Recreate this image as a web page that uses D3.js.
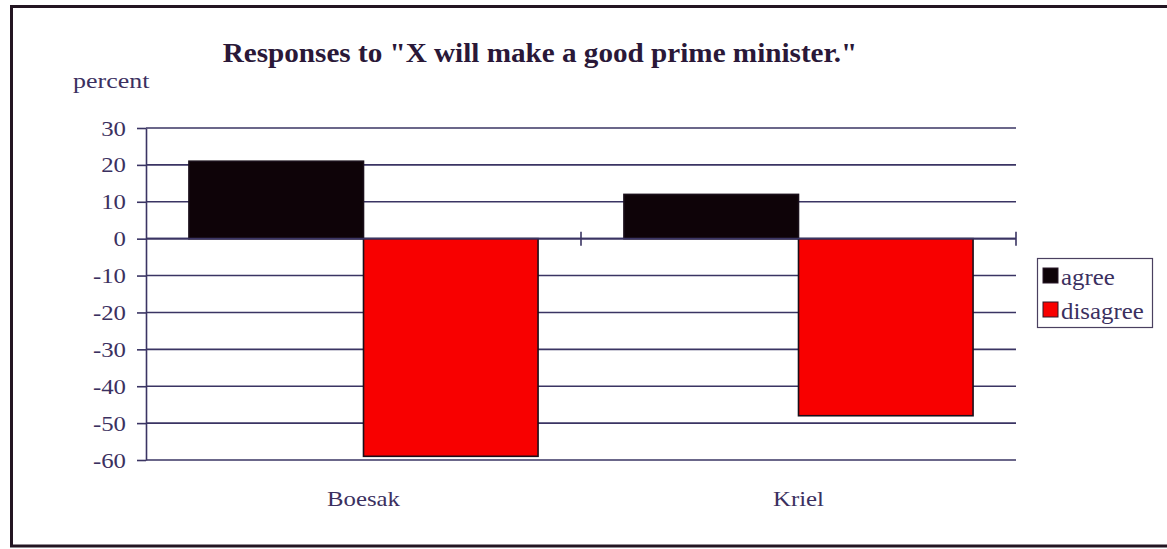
<!DOCTYPE html>
<html>
<head>
<meta charset="utf-8">
<script src="https://cdn.jsdelivr.net/npm/d3@7"></script>
<style>
  html, body { margin: 0; padding: 0; background: #fff; }
  svg { display: block; }
  svg text { font-family: "Liberation Serif", "Times New Roman", serif; }
</style>
</head>
<body>
<svg id="chart" width="1167" height="549"></svg>
<script>
// Survey responses, percent
const categories = ["Boesak", "Kriel"];
const seriesNames = ["agree", "disagree"];
const agreeValues = [21, 12];
const disagreeValues = [-59, -48];
const yTicks = [30, 20, 10, 0, -10, -20, -30, -40, -50, -60];
const titleText = "Responses to \"X will make a good prime minister.\"";
const yLabel = "percent";

const serif = "'Liberation Serif', 'Times New Roman', serif";
const colors = { agree: "#0e0308", disagree: "#f80000" };
const inkColor = "#3b3060";
const gridColor = "#3a3463";
const stretch = 1.18; // wide serif lettering

const svg = d3.select("#chart");

// Outer frame
svg.append("rect")
  .attr("x", 11.5).attr("y", 6.5)
  .attr("width", 1170).attr("height", 539.5)
  .attr("fill", "#fff")
  .attr("stroke", "#231522").attr("stroke-width", 3);

const plot = { left: 146, right: 1016, top: 128, bottom: 460 };

const y = d3.scaleLinear().domain([-60, 30]).range([plot.bottom, plot.top]);
const x0 = d3.scaleBand().domain(categories).range([plot.left, plot.right]).padding(0);
const x1 = d3.scaleBand().domain(seriesNames).range([0, x0.bandwidth()])
  .paddingInner(0).paddingOuter(0.246);

// Horizontal gridlines
svg.append("g")
  .selectAll("line")
  .data(yTicks)
  .join("line")
  .attr("x1", plot.left).attr("x2", plot.right)
  .attr("y1", d => y(d)).attr("y2", d => y(d))
  .attr("stroke", gridColor).attr("stroke-width", 1.6);

// Y axis with ticks (plain hyphen for negatives)
const yAxis = svg.append("g")
  .attr("transform", `translate(${plot.left},0)`)
  .call(d3.axisLeft(y).tickValues(yTicks).tickFormat(d => String(d))
    .tickSize(9).tickSizeOuter(0).tickPadding(11));
yAxis.attr("font-family", serif);
yAxis.select(".domain").attr("stroke", gridColor).attr("stroke-width", 1.6);
yAxis.selectAll(".tick line").attr("stroke", gridColor).attr("stroke-width", 1.6);
yAxis.selectAll(".tick text")
  .attr("fill", inkColor)
  .attr("font-family", serif)
  .attr("font-size", 21)
  .attr("dy", null)
  .attr("y", 7)
  .attr("transform", `scale(${stretch},1)`)
  .attr("x", -20 / stretch);

// Bars
const rows = categories.map((c, i) => ({ cat: c, agree: agreeValues[i], disagree: disagreeValues[i] }));
const groups = svg.append("g")
  .selectAll("g")
  .data(rows)
  .join("g")
  .attr("transform", d => `translate(${x0(d.cat)},0)`);

groups.selectAll("rect")
  .data(d => seriesNames.map(k => ({ key: k, value: d[k] })))
  .join("rect")
  .attr("x", d => x1(d.key))
  .attr("width", x1.bandwidth())
  .attr("y", d => y(Math.max(0, d.value)))
  .attr("height", d => Math.abs(y(d.value) - y(0)))
  .attr("fill", d => colors[d.key])
  .attr("stroke", "#1a0f1a").attr("stroke-width", 1.6);

// Zero line with category separators
svg.append("line")
  .attr("x1", plot.left).attr("x2", plot.right)
  .attr("y1", y(0)).attr("y2", y(0))
  .attr("stroke", gridColor).attr("stroke-width", 1.6);
const boundaries = categories.slice(1).map(c => x0(c)).concat([plot.right]);
svg.append("g")
  .selectAll("line")
  .data(boundaries)
  .join("line")
  .attr("x1", d => d).attr("x2", d => d)
  .attr("y1", y(0) - 7).attr("y2", y(0) + 7)
  .attr("stroke", gridColor).attr("stroke-width", 1.6);

// Helper for stretched text
function stretchedText(parent, tx, ty, str, opts) {
  const g = parent.append("g").attr("transform", `translate(${tx},${ty})`);
  return g.append("text")
    .attr("transform", `scale(${opts.sx || stretch},1)`)
    .attr("text-anchor", opts.anchor || "start")
    .attr("font-family", serif)
    .attr("font-size", opts.size)
    .attr("font-weight", opts.weight || "normal")
    .attr("fill", opts.fill || inkColor)
    .text(str);
}

// Category labels
categories.forEach(c => {
  stretchedText(svg, x0(c) + x0.bandwidth() / 2, 506, c, { size: 21, anchor: "middle" });
});

// Axis label
stretchedText(svg, 73, 88, yLabel, { size: 22 });

// Title
stretchedText(svg, 540, 62, titleText, { size: 27, weight: "bold", anchor: "middle", fill: "#2a1838", sx: 1.08 });

// Legend
const legend = svg.append("g");
legend.append("rect")
  .attr("x", 1037.5).attr("y", 258.5).attr("width", 115).attr("height", 69)
  .attr("fill", "#fff").attr("stroke", "#4a4060").attr("stroke-width", 1.2);
seriesNames.forEach((k, i) => {
  const yy = 268 + i * 34;
  legend.append("rect")
    .attr("x", 1043).attr("y", yy).attr("width", 15).attr("height", 15)
    .attr("fill", colors[k]).attr("stroke", "#2a1a2a").attr("stroke-width", 1);
  stretchedText(legend, 1061, yy + 17, k, { size: 23, sx: 1.08 });
});
</script>
</body>
</html>
